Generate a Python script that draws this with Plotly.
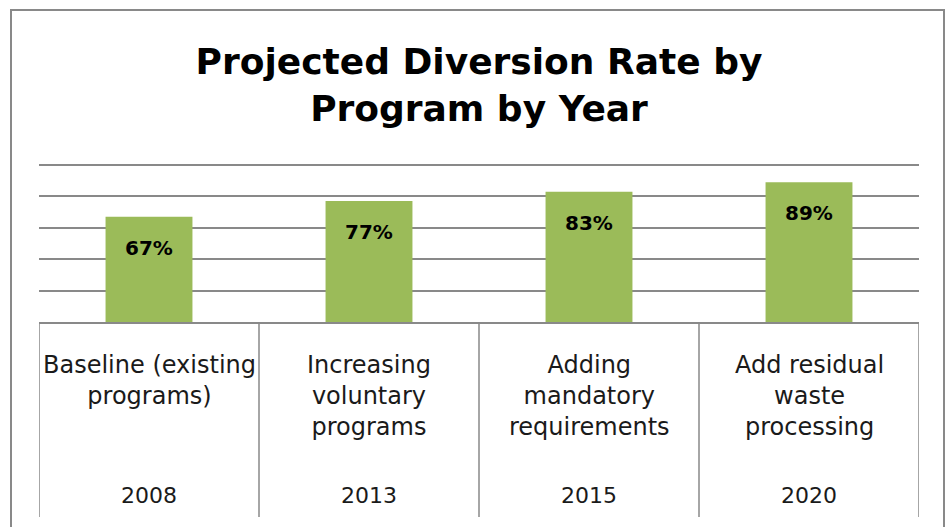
import plotly.graph_objects as go

programs = ["Baseline (existing<br>programs)", "Increasing<br>voluntary<br>programs",
            "Adding<br>mandatory<br>requirements", "Add residual<br>waste<br>processing"]
years = ["2008", "2013", "2015", "2020"]
rates = [67, 77, 83, 89]
labels = ["67%", "77%", "83%", "89%"]
title_text = "Projected Diversion Rate by<br>Program by Year"

GRAY = "#898989"
W, H = 951, 527
L, R, T, B = 39, 32, 163, 205
plot_h = H - T - B
plot_w = W - L - R
Y_MAX = 100 * plot_h / 157  # 100% sits 157 px above the axis

def py(pix):  # pixel y -> paper y
    return (H - B - pix) / plot_h

def px(pix):
    return (pix - L) / plot_w

xs = list(range(len(years)))

fig = go.Figure()
fig.add_trace(go.Bar(x=xs, y=rates, marker=dict(color="#9BBB59", line=dict(width=0)),
                     width=0.395, hoverinfo="skip"))

annotations = []
for xi, v, lab in zip(xs, rates, labels):
    annotations.append(dict(x=xi, y=v, xref="x", yref="y", text=lab, showarrow=False,
                            yanchor="middle", yshift=-31,
                            font=dict(family="DejaVu Sans", size=20, color="black", weight="bold")))
for xi, p in zip(xs, programs):
    annotations.append(dict(x=xi, y=py(349), xref="x", yref="paper", text=p, showarrow=False,
                            yanchor="top", align="center",
                            font=dict(family="DejaVu Sans", size=24, color="#1a1a1a")))
for xi, yr in zip(xs, years):
    annotations.append(dict(x=xi, y=py(495), xref="x", yref="paper", text=yr, showarrow=False,
                            yanchor="middle",
                            font=dict(family="DejaVu Sans", size=22, color="#1a1a1a")))

shapes = []
# category dividers
for b in [i - 0.5 for i in range(len(years) + 1)]:
    shapes.append(dict(type="line", xref="x", yref="paper", x0=b, x1=b, y0=0, y1=py(517),
                       line=dict(color=GRAY, width=1.5)))
# outer chart border (bottom cropped)
shapes.append(dict(type="rect", xref="paper", yref="paper",
                   x0=px(11), x1=px(944), y0=py(10), y1=py(560),
                   line=dict(color=GRAY, width=2), layer="below"))

fig.update_layout(
    width=W, height=H,
    margin=dict(l=L, r=R, t=T, b=B, pad=0),
    paper_bgcolor="white", plot_bgcolor="white",
    showlegend=False,
    title=dict(text=title_text, x=0.5, xref="paper", xanchor="center",
               y=1 - 74 / H, yref="container", yanchor="top",
               font=dict(family="DejaVu Sans", size=36, color="black", weight="bold")),
    xaxis=dict(range=[-0.5, len(years) - 0.5], showticklabels=False, showgrid=False,
               zeroline=False, showline=True, linecolor=GRAY, linewidth=1.5, ticks=""),
    yaxis=dict(range=[0, Y_MAX], tick0=0, dtick=20, showticklabels=False, showgrid=True,
               gridcolor=GRAY, gridwidth=1.5, zeroline=False, showline=False, ticks=""),
    annotations=annotations, shapes=shapes,
)

fig.write_html("out.html")
